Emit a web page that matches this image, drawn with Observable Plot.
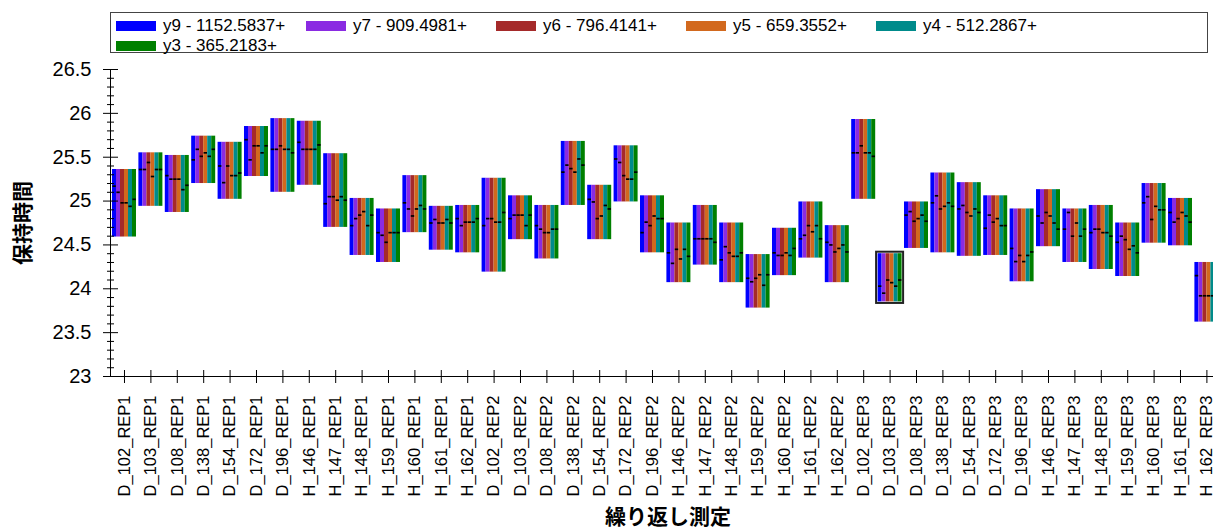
<!DOCTYPE html>
<html><head><meta charset="utf-8">
<script src="https://cdn.jsdelivr.net/npm/d3@7"></script>
<script src="https://cdn.jsdelivr.net/npm/@observablehq/plot@0.6"></script>
<style>
body{margin:0;background:#fff;font-family:"Liberation Sans",Arial,sans-serif;}
#legend{position:relative;margin-left:110px;margin-top:12px;width:1098px;height:41px;box-sizing:border-box;border:1px solid #444;}
.item{position:absolute;display:flex;align-items:center;font-size:17px;color:#000;height:18px;white-space:nowrap;}
.sw{width:40px;height:10px;margin-right:7px;}
</style></head><body>
<div id="legend"></div><div id="chart"></div>
<script>
const replicates = ["D_102_REP1","D_103_REP1","D_108_REP1","D_138_REP1","D_154_REP1","D_172_REP1","D_196_REP1","H_146_REP1","H_147_REP1","H_148_REP1","H_159_REP1","H_160_REP1","H_161_REP1","H_162_REP1",
"D_102_REP2","D_103_REP2","D_108_REP2","D_138_REP2","D_154_REP2","D_172_REP2","D_196_REP2","H_146_REP2","H_147_REP2","H_148_REP2","H_159_REP2","H_160_REP2","H_161_REP2","H_162_REP2",
"D_102_REP3","D_103_REP3","D_108_REP3","D_138_REP3","D_154_REP3","D_172_REP3","D_196_REP3","H_146_REP3","H_147_REP3","H_148_REP3","H_159_REP3","H_160_REP3","H_161_REP3","H_162_REP3"];
const seriesNames = ["y9 - 1152.5837+","y7 - 909.4981+","y6 - 796.4141+","y5 - 659.3552+","y4 - 512.2867+","y3 - 365.2183+"];
const seriesColors = ["#0000FF","#8A2BE2","#A52A2A","#D2691E","#008B8B","#008000"];
const selectedReplicate = "D_103_REP3";
const rtMin = [24.59,24.94,24.87,25.20,25.02,25.28,25.10,25.18,24.70,24.38,24.30,24.64,24.44,24.41,24.19,24.56,24.34,24.95,24.56,24.99,24.41,24.07,24.27,24.07,23.78,24.15,24.35,24.07,25.02,23.85,24.46,24.41,24.37,24.38,24.08,24.48,24.30,24.22,24.14,24.52,24.49,23.62];
const rtMax = [25.36,25.55,25.52,25.74,25.67,25.85,25.94,25.91,25.54,25.03,24.91,25.29,24.94,24.95,25.26,25.06,24.95,25.68,25.18,25.63,25.06,24.75,24.95,24.75,24.39,24.69,24.99,24.72,25.93,24.40,24.99,25.32,25.21,25.06,24.91,25.13,24.91,24.95,24.75,25.20,25.03,24.30];
const apexY9 = [25.17,25.36,25.29,25.47,25.40,25.70,25.59,25.67,24.97,24.72,24.64,24.98,24.75,24.80,24.72,24.80,24.72,25.33,25.02,25.48,24.64,24.41,24.57,24.33,24.12,24.41,24.57,24.53,25.55,24.03,24.84,24.98,24.91,24.69,24.46,24.83,24.68,24.64,24.53,24.98,24.87,24.15];
const apexY7 = [25.10,25.36,25.25,25.59,25.21,25.47,25.59,25.59,25.05,24.80,24.61,24.91,24.79,24.72,24.80,24.84,24.68,25.41,24.99,25.44,24.76,24.29,24.57,24.48,24.08,24.38,24.61,24.50,25.55,23.95,24.88,25.06,24.95,24.84,24.31,24.75,24.87,24.68,24.60,25.05,24.76,23.92];
const apexY6 = [24.98,25.44,25.25,25.51,25.40,25.63,25.63,25.59,25.05,24.84,24.53,24.83,24.75,24.76,24.80,24.84,24.64,25.37,24.80,25.29,24.72,24.45,24.57,24.41,24.12,24.38,24.72,24.42,25.63,24.10,24.77,24.91,24.87,24.76,24.38,24.87,24.60,24.68,24.56,24.79,24.80,23.92];
const apexY5 = [24.98,25.28,25.25,25.55,25.29,25.63,25.59,25.59,25.01,24.88,24.64,24.91,24.75,24.76,24.76,24.84,24.64,25.33,24.83,25.25,24.83,24.34,24.57,24.37,24.16,24.41,24.65,24.46,25.55,24.07,24.80,24.94,24.83,24.80,24.31,24.83,24.75,24.64,24.45,24.94,24.87,23.92];
const apexY4 = [24.94,25.36,25.13,25.51,25.29,25.55,25.59,25.59,25.05,24.72,24.64,24.95,24.79,24.76,24.76,24.72,24.68,25.48,24.95,25.25,24.80,24.45,24.57,24.37,24.04,24.38,24.72,24.50,25.55,24.03,24.84,24.98,24.91,24.72,24.38,24.75,24.60,24.64,24.49,24.90,24.83,23.92];
const apexY3 = [25.02,25.36,25.18,25.59,25.32,25.63,25.55,25.64,25.01,24.84,24.64,24.91,24.75,24.80,24.87,24.84,24.68,25.41,24.91,25.33,24.80,24.37,24.53,24.41,24.16,24.46,24.57,24.42,25.51,24.10,24.77,24.94,24.87,24.72,24.42,24.68,24.68,24.60,24.41,24.90,24.76,23.95];
const yMajorTicks = [23,23.5,24,24.5,25,25.5,26,26.5];
const xTitle = "繰り返し測定";
const yTitle = "保持時間";

// legend
const legend = document.getElementById("legend");
const legendPos = [[5,4],[195,4],[385,4],[575,4],[765,4],[5,24]];
seriesNames.forEach((s,j)=>{
  const it = document.createElement("div");
  it.className="item";
  it.style.left = legendPos[j][0]+"px"; it.style.top = legendPos[j][1]+"px";
  it.innerHTML = `<span class="sw" style="background:${seriesColors[j]}"></span><span>${s}</span>`;
  legend.appendChild(it);
});

const apex = [apexY9,apexY7,apexY6,apexY5,apexY4,apexY3];
const GROUP = 24/26.4, BAR = GROUP/6;
const rows = [];
replicates.forEach((r,i)=>seriesNames.forEach((s,j)=>rows.push({
  rep:r, series:s, x1:i-GROUP/2+j*BAR, x2:i-GROUP/2+(j+1)*BAR, lo:rtMin[i], hi:rtMax[i], apex:apex[j][i]
})));
const selIdx = replicates.indexOf(selectedReplicate);
const sel = [{x1:selIdx-GROUP/2, x2:selIdx+GROUP/2, lo:rtMin[selIdx], hi:rtMax[selIdx]}];
const X0 = -0.53, X1 = 41.25;
const minorTicks = d3.range(230,266).map(v=>v/10).filter(v=>Math.abs(v*2-Math.round(v*2))>1e-6);

const chart = Plot.plot({
  width:1213, height:476, marginLeft:110, marginRight:0, marginTop:16, marginBottom:153,
  style:{fontFamily:'"Liberation Sans",Arial,sans-serif', background:"#fff", color:"#000"},
  x:{type:"linear", domain:[X0,X1], axis:null},
  y:{domain:[23,26.5], axis:null},
  color:{domain:seriesNames, range:seriesColors},
  marks:[
    Plot.rect(rows,{x1:"x1",x2:"x2",y1:"lo",y2:"hi",fill:"series",clip:true}),
    Plot.ruleY(rows,{x1:d=>d.x1+BAR*0.1,x2:d=>d.x2-BAR*0.05,y:"apex",stroke:"#000",strokeWidth:1.7,clip:true}),
    Plot.rect(sel,{x1:"x1",x2:"x2",y1:"lo",y2:"hi",fill:"none",stroke:"#222",strokeWidth:2,inset:-1.5}),
    Plot.ruleY([23],{stroke:"#000"}),
    Plot.ruleX([X0],{stroke:"#000"}),
    Plot.axisY({ticks:yMajorTicks, tickFormat:d=>String(d), tickSize:15, dx:8, tickPadding:12, fontSize:20, stroke:"#000"}),
    Plot.axisY({ticks:minorTicks, tickFormat:()=>"", tickSize:7, dx:4, stroke:"#000"}),
    Plot.axisX({ticks:d3.range(replicates.length), tickFormat:i=>replicates[i], tickRotate:-90, tickSize:13, dy:-6, tickPadding:12, fontSize:16.5, stroke:"#000"}),
    Plot.text([yTitle],{frameAnchor:"left", dx:-87, rotate:-90, textAnchor:"middle", lineAnchor:"middle", fontSize:21, fontWeight:"bold", fontFamily:"Noto Sans CJK JP", fill:"#000"}),
    Plot.text([xTitle],{frameAnchor:"bottom", dy:141, dx:6, textAnchor:"middle", lineAnchor:"middle", fontSize:21, fontWeight:"bold", fontFamily:"Noto Sans CJK JP", fill:"#000"})
  ]
});
document.getElementById("chart").appendChild(chart);
</script>
</body></html>
